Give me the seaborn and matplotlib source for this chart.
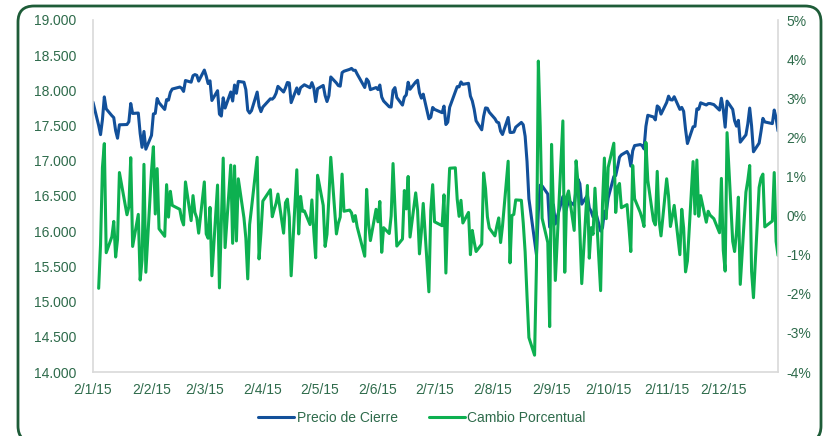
import numpy as np
import pandas as pd
import matplotlib
matplotlib.use("Agg")
import matplotlib.pyplot as plt
from matplotlib.ticker import FuncFormatter, MultipleLocator
from matplotlib.patches import FancyBboxPatch
import seaborn as sns

# ---------------- data ----------------
holidays_2015 = ["2015-01-01", "2015-01-19", "2015-02-16", "2015-04-03", "2015-05-25",
                 "2015-07-03", "2015-09-07", "2015-11-26", "2015-12-25"]
dates = pd.bdate_range("2015-01-02", "2015-12-31", freq="C", holidays=holidays_2015)

precio_cierre = [
    # Jan
    17832.99, 17501.65, 17371.64, 17584.52, 17907.87, 17737.37, 17640.84, 17613.68, 17427.09, 17320.71,
    17511.57, 17515.23, 17554.28, 17813.98, 17672.60, 17678.70, 17387.21, 17191.37, 17416.85, 17164.95,
    # Feb
    17361.04, 17666.40, 17673.02, 17884.88, 17824.29, 17729.21, 17868.76, 17862.14, 17972.38, 18019.35,
    18047.58, 18029.85, 17985.77, 18140.44, 18116.84, 18209.19, 18224.57, 18214.42, 18132.70,
    # Mar
    18288.63, 18203.37, 18096.90, 18135.72, 17856.78, 17995.72, 17662.94, 17635.39, 17895.22, 17749.31,
    17977.42, 17849.08, 18076.19, 17959.03, 18127.65, 18116.04, 18011.14, 17718.54, 17678.23, 17712.66,
    17976.31, 17776.12,
    # Apr
    17698.18, 17763.24, 17880.85, 17875.42, 17902.51, 17958.73, 18057.65, 17977.04, 18036.70, 18112.61,
    18105.77, 17826.30, 18034.93, 17949.59, 18038.27, 18058.69, 18080.14, 18037.97, 18110.14, 18035.53,
    17840.52,
    # May
    18024.06, 18070.40, 17928.20, 17841.98, 17924.06, 18191.11, 18105.17, 18068.23, 18060.49, 18252.24,
    18272.56, 18298.88, 18312.39, 18285.40, 18285.74, 18232.02, 18041.54, 18162.99, 18126.12, 18010.68,
    # Jun
    18040.37, 18011.94, 18076.27, 17905.58, 17849.46, 17766.55, 17764.04, 18000.40, 18039.37, 17898.84,
    17791.17, 17904.48, 17935.74, 18115.84, 18015.95, 18119.78, 18144.07, 17966.07, 17890.36, 17946.68,
    17596.35, 17619.51,
    # Jul
    17757.91, 17730.11, 17683.58, 17776.91, 17515.42, 17548.62, 17760.41, 17977.68, 18053.58, 18050.17,
    18120.25, 18086.45, 18100.41, 17919.29, 17851.04, 17731.92, 17568.53, 17440.59, 17630.27, 17751.39,
    17745.98, 17689.86,
    # Aug
    17598.20, 17550.69, 17540.47, 17419.75, 17373.38, 17615.17, 17402.84, 17402.51, 17408.25, 17477.40,
    17545.18, 17511.34, 17348.73, 16990.69, 16459.75, 15871.35, 15666.44, 16285.51, 16654.77, 16643.01,
    16528.03,
    # Sep
    16058.35, 16351.38, 16374.76, 16102.38, 16492.68, 16253.57, 16330.40, 16433.09, 16370.96, 16599.85,
    16739.95, 16674.74, 16384.58, 16510.19, 16330.47, 16279.89, 16201.32, 16314.67, 16001.89, 16049.13,
    16284.70,
    # Oct
    16272.01, 16472.37, 16776.43, 16790.19, 16912.29, 17050.75, 17084.49, 17131.86, 17081.89, 16924.75,
    17141.75, 17215.97, 17230.54, 17217.11, 17168.61, 17489.16, 17646.70, 17623.05, 17581.43, 17779.52,
    17755.80, 17663.54,
    # Nov
    17828.76, 17918.15, 17867.58, 17863.43, 17910.33, 17730.48, 17758.21, 17702.22, 17448.07, 17245.24,
    17483.01, 17489.50, 17737.16, 17732.75, 17823.81, 17792.68, 17812.19, 17813.39, 17798.49, 17719.92,
    # Dec
    17888.35, 17729.68, 17477.67, 17847.63, 17730.51, 17568.00, 17492.30, 17574.75, 17265.21, 17368.50,
    17524.91, 17749.09, 17495.84, 17128.55, 17251.62, 17417.27, 17602.61, 17552.17, 17528.27, 17720.98,
    17603.87, 17425.03,
]

cambio_porcentual = [
    # Jan (%)
    np.nan, -1.86, -0.74, 1.23, 1.84, -0.95, -0.54, -0.15, -1.06, -0.61,
    1.10, 0.02, 0.22, 1.48, -0.79, 0.03, -1.65, -1.13, 1.31, -1.45,
    # Feb
    1.14, 1.76, 0.04, 1.20, -0.34, -0.53, 0.79, -0.04, 0.62, 0.26,
    0.16, -0.10, -0.24, 0.86, -0.13, 0.51, 0.08, -0.06, -0.45,
    # Mar
    0.86, -0.47, -0.58, 0.21, -1.54, 0.78, -1.85, -0.16, 1.47, -0.82,
    1.29, -0.71, 1.27, -0.65, 0.94, -0.06, -0.58, -1.62, -0.23, 0.19,
    1.49, -1.11,
    # Apr
    -0.44, 0.37, 0.66, -0.03, 0.15, 0.31, 0.55, -0.45, 0.33, 0.42,
    -0.04, -1.54, 1.17, -0.47, 0.49, 0.11, 0.12, -0.23, 0.40, -0.41,
    -1.08,
    # May
    1.03, 0.26, -0.79, -0.48, 0.46, 1.49, -0.47, -0.20, -0.04, 1.06,
    0.11, 0.14, 0.07, -0.15, 0.00, -0.29, -1.04, 0.67, -0.20, -0.64,
    # Jun
    0.16, -0.16, 0.36, -0.94, -0.31, -0.46, -0.01, 1.33, 0.22, -0.78,
    -0.60, 0.64, 0.17, 1.00, -0.55, 0.58, 0.13, -0.98, -0.42, 0.31,
    -1.95, 0.13,
    # Jul
    0.79, -0.16, -0.26, 0.53, -1.47, 0.19, 1.21, 1.22, 0.42, -0.02,
    0.39, -0.19, 0.08, -1.00, -0.38, -0.67, -0.92, -0.73, 1.09, 0.69,
    -0.03, -0.32,
    # Aug
    -0.52, -0.27, -0.06, -0.69, -0.27, 1.39, -1.21, 0.00, 0.03, 0.40,
    0.39, -0.19, -0.93, -2.06, -3.12, -3.57, -1.29, 3.95, 2.27, -0.07,
    -0.69,
    # Sep
    -2.84, 1.82, 0.14, -1.66, 2.42, -1.45, 0.47, 0.63, -0.38, 1.40,
    0.84, -0.39, -1.74, 0.77, -1.09, -0.31, -0.48, 0.70, -1.92, 0.30,
    1.47,
    # Oct
    -0.08, 1.23, 1.85, 0.08, 0.73, 0.82, 0.20, 0.28, -0.29, -0.92,
    1.28, 0.43, 0.08, -0.08, -0.28, 1.87, 0.90, -0.13, -0.24, 1.13,
    -0.13, -0.52,
    # Nov
    0.94, 0.50, -0.28, -0.02, 0.26, -1.00, 0.16, -0.32, -1.44, -1.16,
    1.38, 0.04, 1.42, -0.02, 0.51, -0.17, 0.11, 0.01, -0.08, -0.44,
    # Dec
    0.95, -0.89, -1.42, 2.12, -0.66, -0.92, -0.43, 0.47, -1.76, 0.60,
    0.90, 1.28, -1.43, -2.10, 0.72, 0.96, 1.06, -0.29, -0.14, 1.10,
    -0.66, -1.02,
]

serie_precio = "Precio de Cierre"
serie_cambio = "Cambio Porcentual"

df = pd.DataFrame({"fecha": dates, serie_precio: precio_cierre, serie_cambio: cambio_porcentual})

# ---------------- style ----------------
sns.set_theme(style="white")
plt.rcParams["font.family"] = ["Liberation Sans", "DejaVu Sans"]
text_color = "#2e6b4b"
blue = "#12509a"
green = "#0db050"

fig = plt.figure(figsize=(8.28, 4.36), dpi=100)
ax = fig.add_axes([93 / 828, 1 - 372 / 436, (778 - 93) / 828, (372 - 20) / 436])

sns.lineplot(data=df, x="fecha", y=serie_precio, ax=ax, color=blue, linewidth=2.2,
             label=serie_precio, legend=False)
ax2 = ax.twinx()
sns.lineplot(data=df, x="fecha", y=serie_cambio, ax=ax2, color=green, linewidth=2.2,
             label=serie_cambio, legend=False)

ax.set_xlim(pd.Timestamp("2015-01-02"), pd.Timestamp("2015-12-31"))
ax.set_ylim(14000, 19000)
ax2.set_ylim(-4, 5)
ax.yaxis.set_major_locator(MultipleLocator(500))
ax2.yaxis.set_major_locator(MultipleLocator(1))
ax.yaxis.set_major_formatter(FuncFormatter(lambda v, p: f"{int(round(v)):,}".replace(",", ".")))
ax2.yaxis.set_major_formatter(FuncFormatter(lambda v, p: f"{int(round(v))}%"))

ticks = pd.date_range("2015-01-01", "2015-12-01", freq="MS") + pd.Timedelta(days=1)
ax.set_xticks(ticks)
ax.set_xticklabels([f"{d.day}/{d.month}/{d.year % 100}" for d in ticks])

for a in (ax, ax2):
    a.set_xlabel("")
    a.set_ylabel("")
    a.grid(False)
    a.tick_params(length=0, labelsize=10, colors=text_color)
    for s in a.spines.values():
        s.set_visible(False)
ax.tick_params(axis="y", pad=12)
ax2.tick_params(axis="y", pad=6)
ax.tick_params(axis="x", pad=8)
ax.spines["left"].set_visible(True)
ax.spines["left"].set_color("#d9d9d9")
ax.spines["bottom"].set_visible(True)
ax.spines["bottom"].set_color("#d9d9d9")
ax2.spines["right"].set_visible(True)
ax2.spines["right"].set_color("#d9d9d9")
for s in ("left", "bottom"):
    ax.spines[s].set_linewidth(1.2)
ax2.spines["right"].set_linewidth(1.2)

h1, l1 = ax.get_legend_handles_labels()
h2, l2 = ax2.get_legend_handles_labels()
fig.legend(h1 + h2, l1 + l2, loc="center", bbox_to_anchor=(422 / 828, 1 - 418 / 436),
           ncol=2, frameon=False, fontsize=10, labelcolor=text_color,
           handlelength=2.6, handletextpad=0.2, columnspacing=2.2)

# rounded outer frame (pixel coordinates, origin bottom-left)
border = FancyBboxPatch((18, -6), 821 - 18, 430 + 6,
                        boxstyle="round,pad=0,rounding_size=16",
                        transform=None, facecolor="none",
                        edgecolor="#1e5c38", linewidth=2.0, clip_on=False)
fig.patches.append(border)

fig.savefig("out.png", dpi=100)
